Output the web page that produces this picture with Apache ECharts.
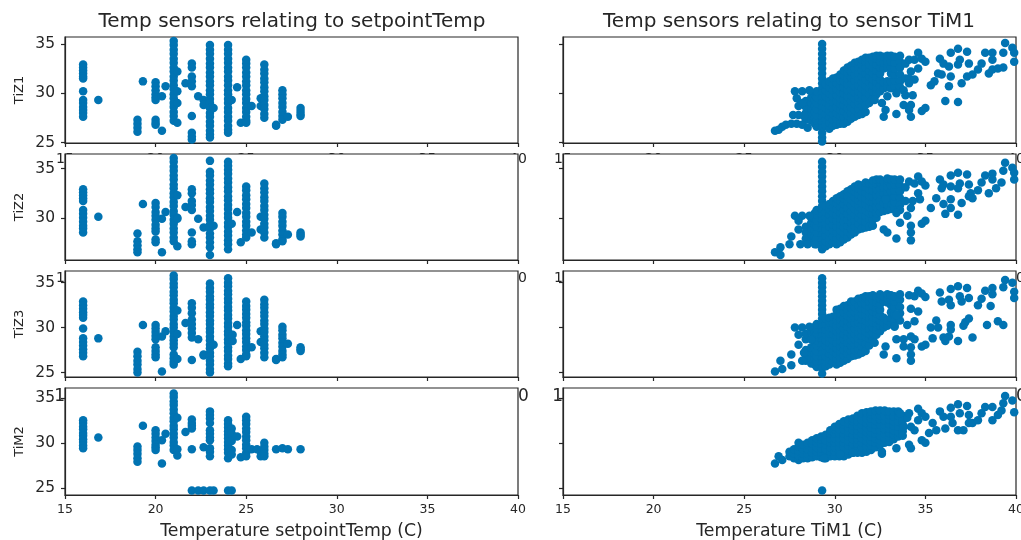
<!DOCTYPE html>
<html><head><meta charset="utf-8">
<style>html,body{margin:0;padding:0;background:#fff}#c{width:1021px;height:540px}</style>
<script src="https://cdn.jsdelivr.net/npm/echarts@6/dist/echarts.min.js"></script>
</head><body><div id="c"></div>
<script>
const rowNames = ['TiZ1','TiZ2','TiZ3','TiM2'];
const xTicks = [15,20,25,30,35,40];
const yTicks = [25,30,35];
const yRanges = [[24.95,35.7],[25.7,36.5],[24.5,36.3],[24.2,36.1]];

// setpointTemp columns: [setpoint, readings]
const setTiZ1 = [
[16,[32.9,32.6,32.3,32,31.7,31.5,30.2,29.3,29,28.6,28.3,28,27.6]],[16.84,[29.3]],
[19,[27.3,26.9,26.5,26.1]],[19.3,[31.2]],[20,[31.1,30.7,30.3,29.9,29.6,29.3,27.3,27,26.8]],
[20.35,[29.7,26.2]],[20.55,[30.7]],
[21,[35.3,34.9,34.4,34,33.5,33.1,32.6,32.2,31.7,31.3,30.8,30.4,29.9,29.5,29,28.6,28.1,27.7,27.2]],
[21.2,[32.2,30.2,29,27]],[21.65,[31]],[22,[33,32.6,31.7,31.2,30.7,27.7,26,25.6,25.3]],[22.35,[29.7]],[22.65,[29.3,28.8]],
[23,[34.9,34.4,34,33.5,33,32.6,32.1,31.7,31.2,30.8,30.3,29.9,29.4,29,28.5,28,27.6,27.1,26.7,26.2,25.8,25.5]],[23.2,[28.5]],
[24,[34.9,34.4,34,33.5,33.1,32.6,32.2,31.7,31.3,30.8,30.3,29.9,29.4,29,28.5,28.1,27.6,27.2,26.7,26.3,26]],[24.2,[29.3]],[24.5,[30.6]],[24.7,[27]],
[25,[33.4,33,32.6,32.1,31.7,31.2,30.8,30.3,29.9,29.4,29,28.5,28.1,27.6,27.2,27]],[25.3,[28.7]],[25.8,[29.5,28.7]],
[26,[32.9,32.4,32,31.5,31.1,30.6,30.2,29.7,29.3,28.8,28.4,27.9,27.5]],[26.65,[26.8,26.7]],
[27,[30.3,29.9,29.5,29,28.6,28.1,27.7,27.3]],[27.3,[27.6]],[28,[28.5,28.2,27.9,27.7]]
];
const setTiZ2 = [
[16,[32.9,32.6,32.3,32,31.7,30.8,30.4,30,29.6,29.2,28.9,28.5]],[16.84,[30.1]],
[19,[28.4,27.6,27.2,26.8,26.5]],[19.3,[31.4]],[20,[31.5,31.1,30.6,30.2,29.8,29.3,28.9,28.6,27.8,27.5]],
[20.35,[29.9,26.5]],[20.55,[30.6]],
[21,[36.1,35.7,35.2,34.8,34.3,33.9,33.4,33,32.5,32.1,31.6,31.2,30.7,30.3,29.8,29.4,28.9,28.5,28,27.6]],
[21.2,[32.3,30,29.9,27.1]],[21.65,[31.1]],[22,[32.9,32.5,31.7,31.3,30.8,28.5,27.6,27.3]],[22.35,[29.9]],[22.65,[29]],
[23,[35.8,34.7,34.3,33.8,33.4,32.9,32.5,32,31.6,31.1,30.7,30.2,29.8,29.3,28.9,28.4,28,27.5,27,26.2]],[23.2,[29.2]],
[24,[35.7,35.3,34.9,34.5,34,33.6,33.1,32.7,32.2,31.8,31.3,30.9,30.4,30,29.5,29.1,28.6,28.2,27.7,27.3,26.8]],[24.2,[29.4]],[24.5,[30.6]],[24.7,[27.5]],
[25,[33.2,32.8,32.3,31.9,31.4,31,30.5,30.1,29.6,29.2,28.7,28.3,28]],[25.3,[28.5]],[25.8,[30.1,28.8]],
[26,[33.5,33,32.6,32.1,31.7,31.2,30.8,30.3,29.9,29.4,29,28.5,28]],[26.65,[27.4,27.3]],
[27,[30.5,30.1,29.6,29.2,28.7,28.3,27.8,27.6]],[27.3,[28.3]],[28,[28.5,28.3,28.1]]
];
const setTiZ3 = [
[16,[32.9,32.5,32.1,31.7,31.4,31.1,29.9,28.8,28.4,28,27.6,27.2,26.8]],[16.84,[28.8]],
[19,[27.3,26.8,26.3,25.9,25.4,25]],[19.3,[30.3]],[20,[30.3,29.9,29.5,29.1,28.7,27.8,27.4,27,26.7]],
[20.35,[29,25.1]],[20.55,[29.6]],
[21,[35.8,35.4,34.9,34.5,34,33.6,33.1,32.7,32.2,31.8,31.3,30.9,30.4,30,29.5,29,28.6,28.2,27.8,27,26.6,26.2,25.9]],
[21.2,[31.9,29.3,26.5]],[21.65,[30.5]],[22,[32.7,32.2,31.6,30.9,30.4,29.9,29.4,28.9,26.4]],[22.35,[28.7]],[22.65,[26.9,27]],
[23,[34.9,34.4,34,33.5,33.1,32.6,32.2,31.7,31.3,30.8,30.4,29.9,29.5,29,28.6,28.1,27.7,27.2,26.8,26.3,25.9,25.4,25]],[23.2,[28.1]],
[24,[35.5,35,34.6,34.1,33.7,33.2,32.8,32.3,31.9,31.4,31,30.5,30.1,29.6,29.2,28.7,28.3,27.8,27.4,26.9,26.5,26,25.7]],[24.25,[28.5,29.2]],[24.5,[30.3]],[24.7,[26.5]],
[25,[32.9,32.4,32,31.5,31.1,30.6,30.2,29.7,29.3,28.8,28.4,27.9,27.5,27,26.8]],[25.3,[27.8]],[25.8,[29.6,28.4]],
[26,[33.1,32.6,32.2,31.7,31.3,30.8,30.4,29.9,29.5,29,28.6,28.1,27.7,27.2,26.7]],[26.65,[26.5,26.4]],
[27,[30.1,29.7,29.2,28.8,28.3,27.9,27.4,27,26.7]],[27.3,[28.2]],[28,[27.8,27.6,27.4]]
];
const setTiM2 = [
[16,[32.5,32.2,31.8,31.5,31.1,30.8,30.4,30.1,29.7,29.4]],[16.84,[30.6]],
[19,[29.6,29.2,28.8,28.3,27.9]],[19.3,[31.9]],[20,[31.4,31,30.6,30.2,29.8,29.5,29.2]],
[20.35,[30.3,27.7]],[20.55,[31]],
[21,[35.5,35.1,34.6,34.2,33.7,33.3,32.8,32.4,31.9,31.5,31,30.6,30.1,29.7,29.2]],
[21.2,[32.8,29.3,28.6]],[21.65,[31.2]],[22,[32.6,32.2,31.9,31.6,29.3,24.7]],[22.35,[24.7]],[22.65,[29.5,24.7]],
[23,[33.5,33.1,32.7,32.2,31.4,31,30.6,30.3,29.4,29,28.5,24.7]],[23.2,[24.7]],
[24,[32.5,32.1,31.7,31.3,30.9,30.5,30.1,29.7,29.3,28.9,28.3,24.7]],[24.2,[31.6,31,30.2,29.2,28.7,24.7]],[24.5,[30.7]],[24.7,[28.4]],
[25,[32.9,32.5,32.1,31.6,31.2,30.7,30.3,29.8,29.4,28.9,28.5]],[25.3,[29.3]],[25.6,[29.3]],[25.8,[29,28.5]],
[26,[30,29.6,29.2,28.8,28.5]],[26.65,[29.3]],[27,[29.4]],[27.3,[29.3]],[28,[29.3]]
];

// TiM1 columns in the dense band, then loose points
const tim1TiZ1Bands = [
[28.4,[27.3,28,28.6,29.2]],[28.7,[27.2,27.8,28.4,29,29.6]],[28.9,[26.9,27.5,28.1,28.7,29.3,29.9]],[29,[26.6,27.2,27.8,28.4,29,29.6,30.2]],
[29.3,[35,34.5,34,33.5,33,32.5,32,31.5,31,30.5,30,29.5,29,28.5,28,27.5,27,26.5,26,25.5,25.1]],
[29.5,[26.7,27.3,27.9,28.5,29.1,29.7,30.3,30.9]],[29.7,[26.4,27,27.6,28.2,28.8,29.4,30,30.6,31.2]],[29.9,[26.7,27.3,27.9,28.5,29.1,29.7,30.3,30.9,31.5]],[30.1,[26.8,27.4,28,28.6,29.2,29.8,30.4,31,31.6]],
[30.3,[26.9,27.7,28.3,28.9,29.5,30.1,30.7,31.3,31.9]],[30.5,[26.9,27.6,28.2,28.8,29.4,30,30.6,31.2,31.8,32.3]],[30.7,[27.1,27.8,28.5,29.1,29.7,30.3,30.9,31.5,32.1,32.6]],[30.9,[27.4,28,28.6,29.2,29.8,30.4,31,31.6,32.2,32.8]],
[31.1,[27.6,28.3,28.9,29.5,30.1,30.7,31.3,31.9,32.5,33.1]],[31.3,[27.8,28.4,29,29.6,30.2,30.8,31.4,32,32.6,33.2]],[31.5,[27.9,28.7,29.3,29.9,30.5,31.1,31.7,32.3,32.9,33.4]],[31.7,[28.1,28.8,29.6,30.2,30.8,31.4,32,32.6,33.2,33.6]],
[31.9,[29,29.9,30.5,31.1,31.7,32.3,32.9,33.6]],[32.1,[29.4,30.2,30.8,31.4,32,32.6,33.2,33.7]],[32.3,[29.9,30.5,31.1,31.7,32.3,32.9,33.5,33.8]],[32.5,[30.2,30.8,31.4,32,32.6,33.2,33.8]],
[32.7,[30.5,31.1,32.5,33.1,33.7]],[32.9,[30.6,31.2,32.6,33.2,33.8]],[33.1,[30.5,31.2,32,32.6,33.2,33.8]],[33.3,[30.7,31.3,31.9,32.5,33.1,33.7]],[33.6,[33.2,32.6,31.9,31.2,30.6]],[33.9,[33,31.5]]
];
const tim1TiZ1Loose = [[26.7,26.2],[26.9,26.3],[27.1,26.6],[27.3,26.8],[27.6,26.9],[27.9,26.9],[28.2,26.8],[28.5,26.5],[27.7,27.8],[28,27.8],[28.3,27.7],[28,28.7],[28.2,29],[27.9,29.5],[27.8,30.2],[28.2,30.2],[28.6,30.3],
[33.6,33.8],[34.1,33.4],[34.4,33.4],[34.6,34.1],[34.8,33.5],[35,33.2],[34.6,32.5],[34.2,32.2],[34.1,31.5],[34.4,31.4],[34.1,31],[33.8,30.3],[33.4,30],[32.9,29.7],[34.3,29.8],[33.9,29.8],[32.2,29.3],[32.6,29],[32.8,28.3],[32.7,27.6],[33.4,27.9],[33.8,28.8],[34.2,28.8],[34.1,28.3],[34.2,27.6],[34.8,28.2],[35,28.5],[35.3,30.8],[35.5,31.2],[35.7,32],[35.8,33.5],[36,33],[36.3,32.7],[36.4,34.1],[36.8,34.5],[37.3,34.2],[36.9,33.4],[36.8,32.9],[37.4,33],[36.4,31.7],[36.3,30.7],[37,31],[37.3,31.7],[37.6,31.9],[37.9,32.4],[38.1,33],[38.3,34.1],[38.7,34.1],[38.7,33.4],[38.5,32],[38.7,32.4],[39,32.5],[39.3,32.6],[39.4,35.1],[39.3,34.1],[39.8,34.6],[39.9,34.1],[39.9,33.2],[36.1,29.2],[36.8,29.1],[35.9,31.9]];

const tim1TiZ2Bands = [
[28.4,[27.9,28.5,29.1]],[28.7,[27.7,28.3,28.9,29.5,30]],[28.9,[27.5,28.1,28.7,29.3,29.9,30.5]],[29,[27.3,27.9,28.5,29.1,29.7,30.3,30.8]],
[29.3,[35.7,35.2,34.7,34.2,33.7,33.2,32.7,32.2,31.7,31.2,30.7,30.2,29.7,29.2,28.7,28.2,27.7,27.2,26.8]],
[29.5,[27.1,27.6,28.2,28.8,29.4,30,30.6,31.2]],[29.7,[27.3,27.9,28.5,29.1,29.7,30.3,30.9,31.4]],[29.9,[27.5,28.1,28.7,29.3,29.9,30.5,31.1,31.7]],[30.1,[27.3,27.9,28.5,29.1,29.7,30.3,30.9,31.5,32]],
[30.3,[27.5,28.1,28.7,29.3,29.9,30.5,31.1,31.7,32.2]],[30.5,[27.8,28.4,29,29.6,30.2,30.8,31.4,32,32.4]],[30.7,[28,28.6,29.2,29.8,30.4,31,31.6,32.2,32.7]],[30.9,[28.3,28.9,29.5,30.1,30.7,31.3,31.9,32.5,32.9]],
[31.1,[28.5,29.1,29.7,30.3,30.9,31.5,32.1,32.7,33.2]],[31.3,[28.8,29.4,30,30.6,31.2,31.8,32.4,33,33.4]],[31.5,[28.9,29.7,30.3,30.9,31.5,32.1,32.7,33.3]],[31.7,[29,29.6,30.2,30.8,31.4,32,32.6,33.2,33.6]],
[31.9,[29.1,29.9,30.5,31.1,31.7,32.3,32.9,33.5]],[32.1,[29.2,29.8,30.4,31,31.6,32.2,32.8,33.4,33.8]],[32.3,[30,30.5,31.1,31.7,32.3,32.9,33.5,33.9]],[32.5,[30.6,31.2,31.8,32.4,33,33.6,33.9]],
[32.7,[30.7,31.5,32.5,33.1,33.7]],[32.9,[30.8,31.3,32.6,33.2,33.8,34]],[33.1,[30.9,31.5,32.1,32.7,33.3,33.9]],[33.3,[31,31.6,32.2,32.8,33.4,33.9]],[33.6,[33.3,32.7,32,31.3,30.8]],[33.9,[33.1,31.7]]
];
const tim1TiZ2Loose = [[26.7,26.5],[27,26.2],[27,27],[27.5,27.3],[27.6,28.1],[28,28.8],[27.8,30.2],[28.2,30.2],[28.6,30.2],[28,29.7],[28.1,27.3],[28.5,27.3],[28.9,27.3],
[33.6,33.9],[34.1,33.7],[34.4,33.5],[34.6,34.2],[34.8,33.7],[35,33.3],[34.6,32.5],[34.7,31.9],[34.3,31.7],[34.2,31],[34,30.2],[33.4,30.5],[32.8,31.9],[34.2,29.2],[34.2,28.5],[34.2,27.7],[33.4,27.9],[32.7,28.8],[32.9,28.5],[34.8,29.4],[35,29.7],[33.6,29.5],[35.3,31],[35.6,32],[35.8,33.9],[36,33.4],[35.9,33],[36.4,33.2],[36.4,34.3],[36.8,34.6],[37.3,34.4],[36.9,33.5],[37.4,33.4],[36.8,33],[37.5,32.5],[37.4,32.2],[37,31.5],[36.4,31.9],[36,31.4],[36.4,31],[36.1,30.4],[36.8,30.3],[37.6,32],[37.9,32.8],[38.1,33.6],[38.3,34.3],[38.7,34.5],[38.7,33.9],[38.5,32.5],[38.9,33],[39.2,33.6],[39.4,35.6],[39.3,34.8],[39.8,35.1],[39.9,34.6],[39.9,33.9]];

const tim1TiZ3Bands = [
[28.4,[26.3,26.9,27.5,28.7,29.3]],[28.7,[26,26.6,27.2,27.8,29.5]],[28.9,[25.9,26.5,27.1,27.7,28.3,28.9,29.5,30.1]],[29,[25.6,26.2,26.8,27.4,28,28.6,29.2,29.8,30.4]],
[29.3,[35.5,35,34.5,34,33.5,33,32.5,32,31.5,31,30.5,30,29.5,29,28.5,28,27.5,27,26.5,26,25.5,24.9]],
[29.5,[25.7,26.2,26.8,27.4,28,28.6,29.2,29.8,30.4,31]],[29.7,[25.9,26.5,27.1,27.7,28.3,28.9,29.4,30,30.6,31.1]],[29.9,[26.2,26.8,27.4,28,28.6,29.3,29.9,30.5,31.2]],[30.1,[25.9,26.5,27.1,27.7,28.3,29,29.6,30.2,30.8,31.4,32]],
[30.3,[26.1,26.7,27.3,27.9,28.5,29.1,29.7,30.3,30.9,31.5,32.1]],[30.5,[26.3,26.9,27.5,28.1,28.7,29.3,29.9,30.5,31.1,31.7,32.4]],[30.7,[26.5,27.1,27.7,28.3,28.9,29.5,30.1,30.7,31.3,31.9,32.5]],[30.9,[26.8,27.4,28,28.6,29.2,29.8,30.4,31,31.6,32.2,32.9]],
[31.1,[26.9,27.5,28.1,28.7,29.3,29.9,30.5,31.1,31.7,32.3,32.9]],[31.3,[27,27.6,28.2,28.8,29.4,30,30.6,31.2,31.8,32.4,33.2]],[31.5,[27.2,27.9,28.5,29.1,29.7,30.3,30.9,31.5,32.1,32.7,33.3]],[31.7,[27.4,28.2,29,29.6,30.2,30.8,31.4,32,32.6,33.2,33.5]],
[31.9,[28,28.8,29.3,29.9,30.5,31.1,31.7,32.3,32.9,33.5]],[32.1,[28.6,29.4,30,30.6,31.2,31.8,32.4,33,33.6]],[32.3,[29.2,29.8,30.4,31,31.6,32.2,32.8,33.4]],[32.5,[29.6,30.2,30.8,31.4,32,32.6,33.2,33.7]],
[32.7,[30,30.5,31.1,32.9,33.5]],[32.9,[30.2,30.8,32.8,33.3,33.7]],[33.1,[30.5,31.1,31.7,32.5,33.1,33.6]],[33.3,[30.2,30.8,31.5,32.3,32.9,33.5]],[33.6,[33.1,32.3,31.6,30.8]]
];
const tim1TiZ3Loose = [[26.7,25.1],[27.1,25.4],[27,26.3],[27.6,27],[27.6,25.8],[28.2,26.3],[27.8,30],[28.2,30],[28.6,30.1],[28,29.2],[28,28.1],[28.3,27.2],[28.7,28.7],
[33.6,33.7],[34.1,33.6],[34.4,33.5],[34.6,34.1],[34.8,33.8],[35,33.4],[34.6,31.8],[34.2,32.1],[34.4,30.7],[34,30.3],[33.4,31.4],[33.3,30.1],[33.4,28.7],[33.8,28.7],[34.2,29],[34.4,28.7],[34.8,27.9],[35,28.1],[34.2,27.8],[34.2,27],[34.2,26.3],[33.4,26.6],[33.8,27.9],[32.7,27],[32.8,27.9],[32.2,28.3],[35.8,33.9],[35.9,32.9],[36.3,33.1],[36.4,32.5],[36.4,34.3],[36.8,34.6],[37.3,34.4],[36.9,33.5],[37,32.9],[37.4,33.3],[35.6,30.8],[35.3,30],[35.7,30],[35.4,28.8],[36.4,30.3],[36.4,29.8],[37.1,30.2],[37.2,30.6],[37.4,31],[36,28.9],[36.3,29],[36.1,28.5],[36.8,28.5],[37.6,28.9],[38.4,30.3],[39,30.7],[39.3,30.3],[37.9,32.5],[38.1,33.2],[38.3,34.1],[38.7,34.4],[38.7,33.7],[38.6,32.4],[39.4,35.3],[39.3,34.5],[39.8,35],[39.9,34],[39.9,33.3]];

const tim1TiM2Bands = [
[27.5,[28.5,29]],[27.75,[28.3,28.8,29.3]],[28,[28.1,28.6,29.1,29.6,30]],[28.25,[28.3,28.8,29.3,29.8]],[28.5,[28.3,28.8,29.3,29.8,30]],[28.75,[28.4,28.9,29.4,29.9,30.3]],[29,[28.5,29,29.5,30,30.5]],[29.25,[28.4,28.9,29.4,29.9,30.4,30.7]],
[29.5,[28.3,28.8,29.3,29.8,30.3,30.9]],[29.75,[28.5,29,29.5,30,30.5,31,31.4]],[30,[28.5,29,29.5,30,30.5,31,31.5,31.8]],[30.25,[28.5,29,29.5,30,30.5,31,31.5,32.1]],
[30.5,[28.5,29,29.5,30,30.5,31,31.5,32,32.4]],[30.75,[28.7,29.2,29.7,30.2,30.7,31.2,31.7,32.2,32.6]],[31,[28.9,29.4,29.9,30.4,30.9,31.4,31.9,32.4,32.7]],[31.25,[28.9,29.4,29.9,30.4,30.9,31.4,31.9,32.4,33]],
[31.5,[28.9,29.5,30,30.5,31,31.5,32,32.5,33,33.3]],[31.75,[29,29.6,30.2,30.7,31.2,31.7,32.2,32.7,33.4]],[32,[29.2,29.7,30.2,30.7,31.2,31.7,32.2,32.7,33.2,33.5]],[32.25,[29.5,30,30.5,31,31.5,32,32.5,33,33.6]],
[32.5,[29.8,30.3,30.8,31.4,32,32.6,33.1,33.6]],[32.75,[30,30.5,31,31.5,32,32.5,33,33.6]],[33,[30.1,30.6,31.1,31.6,32.1,32.6,33.1,33.5]],[33.25,[30.4,30.9,31.4,31.9,32.4,32.9,33.5]],[33.5,[30.7,31.2,31.8,32.4,33,33.5]],[33.75,[33,32.5,32,31.3,30.8]],[34,[32.8]]
];
const tim1TiM2Loose = [[26.7,27.7],[26.9,28.5],[27.1,28.1],[29.3,24.7],[33.6,33.3],[34.1,33.3],[33.8,31.8],[34.2,31.8],[34.6,32.5],[34.4,31.4],[34.6,33.8],[34.8,33.3],[35,32.9],[35.4,32.2],[35.2,31.1],[35.6,31.4],[35.8,33.5],[36,32.9],[36.4,32.9],[36.4,33.9],[36.8,34.3],[37.3,34.1],[36.9,33.3],[37.4,33.1],[36.5,32.2],[36.1,31.6],[36.8,31.4],[37.1,31.4],[37.4,32.2],[37.6,32.2],[37.9,32.5],[38.1,33.3],[38.3,34],[38.7,34],[38.7,32.5],[39,33.1],[39.2,33.6],[39.4,35.2],[39.3,34.4],[39.8,34.7],[39.9,33.4],[34.8,30.3],[35,30],[34.2,29.4],[33.4,29.4],[34.1,29.8],[32.6,29],[32.6,28.8],[31,28.9],[30.3,28.7],[29.4,28.3]];

const flat = cols => cols.flatMap(([x, ys]) => ys.map(y => [x, y]));
const leftData = [setTiZ1, setTiZ2, setTiZ3, setTiM2].map(flat);
const rightData = [[tim1TiZ1Bands,tim1TiZ1Loose],[tim1TiZ2Bands,tim1TiZ2Loose],[tim1TiZ3Bands,tim1TiZ3Loose],[tim1TiM2Bands,tim1TiM2Loose]]
  .map(([b, l]) => flat(b).concat(l));

const font = 'DejaVu Sans', ink = '#262626', dot = '#0173B2';
const tops = [37,154,271,388], heights = [106,106,106,107];
const lefts = [65,563], width = 453;
const hiddenLabel = [{size:14,margin:9.5},{size:14,margin:11},{size:17,margin:11}];

const grids=[], xAxes=[], yAxes=[], series=[];
const axisLine = {show:true,onZero:false,lineStyle:{color:ink,width:1.2}};
const axisTick = {show:true,length:4,lineStyle:{color:ink,width:1.2}};
[0,1].forEach(col => rowNames.forEach((name,row) => {
  const g = grids.length;
  grids.push({left:lefts[col],top:tops[row],width,height:heights[row],show:true,backgroundColor:'#fff',
    borderColor:ink,borderWidth:1.2,z:0,outerBoundsMode:'none'});
  const bottom = row===3;
  const ax = xAxes.length;
  xAxes.push({type:'value',gridIndex:g,position:'bottom',min:15,max:40,interval:5,z:1,axisLine,axisTick,splitLine:{show:false},
    axisLabel:{show:bottom,fontFamily:font,fontSize:12.5,color:ink,margin:8,showMinLabel:true,showMaxLabel:true,hideOverlap:false},
    name:bottom?`Temperature ${col?'TiM1':'setpointTemp'} (C)`:'',nameLocation:'middle',nameGap:28,
    nameTextStyle:{fontFamily:font,fontSize:17.3,color:ink}});
  if(!bottom){
    xAxes.push({type:'value',gridIndex:g,position:'bottom',min:15,max:40,interval:5,z:-1,
      axisLine:{show:false},axisTick:{show:false},splitLine:{show:false},
      axisLabel:{show:true,fontFamily:font,fontSize:hiddenLabel[row].size,color:ink,margin:hiddenLabel[row].margin,showMinLabel:true,showMaxLabel:true,hideOverlap:false}});
  }
  yAxes.push({type:'value',gridIndex:g,position:'left',min:yRanges[row][0],max:yRanges[row][1],z:1,axisLine,
    axisTick:{...axisTick,customValues:yTicks},splitLine:{show:false},
    axisLabel:{show:col===0,customValues:yTicks,fontFamily:font,fontSize:15.5,color:ink,margin:10},
    name:col===0?name:'',nameLocation:'middle',nameGap:39,nameRotate:90,
    nameTextStyle:{fontFamily:font,fontSize:13,color:ink}});
  series.push({type:'scatter',xAxisIndex:ax,yAxisIndex:g,symbolSize:8.5,
    data:col?rightData[row]:leftData[row],itemStyle:{color:dot,opacity:1},silent:true,z:3});
}));

const chart = echarts.init(document.getElementById('c'),null,{renderer:'canvas'});
chart.setOption({
  animation:false,backgroundColor:'#fff',
  title:[
    {text:'Temp sensors relating to setpointTemp',left:287,top:7,textAlign:'center',textStyle:{fontFamily:font,fontSize:20,fontWeight:'normal',color:ink}},
    {text:'Temp sensors relating to sensor TiM1',left:784,top:7,textAlign:'center',textStyle:{fontFamily:font,fontSize:20,fontWeight:'normal',color:ink}}
  ],
  grid:grids,xAxis:xAxes,yAxis:yAxes,series
});
</script></body></html>
